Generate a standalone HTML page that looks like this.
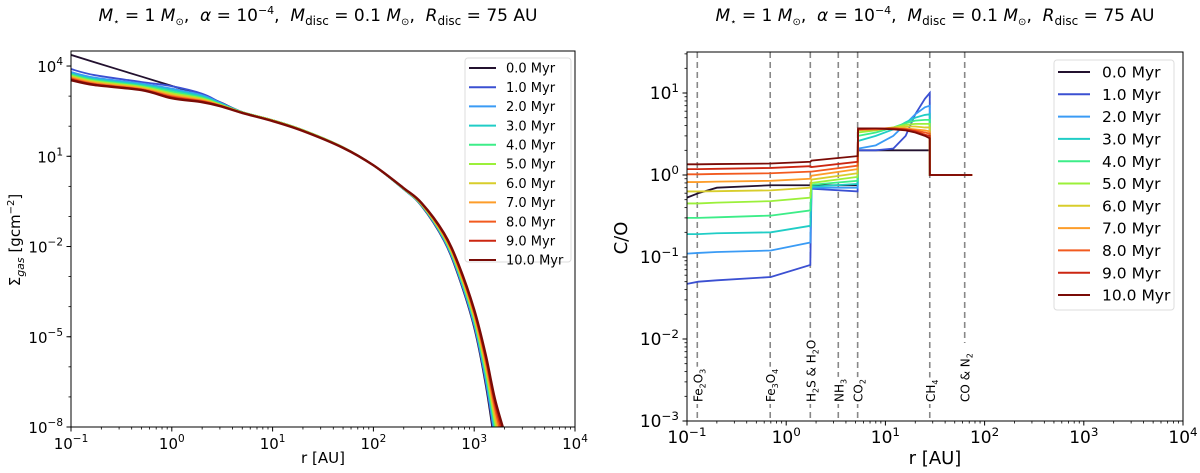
<!DOCTYPE html>
<html><head><meta charset="utf-8">
<style>
html,body{margin:0;padding:0;background:#fff;width:1200px;height:473px;overflow:hidden;}
svg{display:block;font-family:"DejaVu Sans","Liberation Sans",sans-serif;}
</style></head>
<body>
<svg id="chart" width="1200" height="473" viewBox="0 0 1200 473" xmlns="http://www.w3.org/2000/svg" style="overflow:hidden">
<text x="318" y="21" text-anchor="middle" font-size="17" xml:space="preserve"><tspan font-style="italic">M</tspan><tspan font-size="10" dy="4">⋆</tspan><tspan dy="-4"> = 1 </tspan><tspan font-style="italic">M</tspan><tspan font-size="10" dy="4">⊙</tspan><tspan dy="-4">,  </tspan><tspan font-style="italic">α</tspan><tspan> = 10</tspan><tspan font-size="11" dy="-7">−4</tspan><tspan dy="7">,  </tspan><tspan font-style="italic">M</tspan><tspan font-size="12" dy="4">disc</tspan><tspan dy="-4"> = 0.1 </tspan><tspan font-style="italic">M</tspan><tspan font-size="10" dy="4">⊙</tspan><tspan dy="-4">,  </tspan><tspan font-style="italic">R</tspan><tspan font-size="12" dy="4">disc</tspan><tspan dy="-4"> = 75 AU</tspan></text>
<text x="935" y="21" text-anchor="middle" font-size="17" xml:space="preserve"><tspan font-style="italic">M</tspan><tspan font-size="10" dy="4">⋆</tspan><tspan dy="-4"> = 1 </tspan><tspan font-style="italic">M</tspan><tspan font-size="10" dy="4">⊙</tspan><tspan dy="-4">,  </tspan><tspan font-style="italic">α</tspan><tspan> = 10</tspan><tspan font-size="11" dy="-7">−4</tspan><tspan dy="7">,  </tspan><tspan font-style="italic">M</tspan><tspan font-size="12" dy="4">disc</tspan><tspan dy="-4"> = 0.1 </tspan><tspan font-style="italic">M</tspan><tspan font-size="10" dy="4">⊙</tspan><tspan dy="-4">,  </tspan><tspan font-style="italic">R</tspan><tspan font-size="12" dy="4">disc</tspan><tspan dy="-4"> = 75 AU</tspan></text>
<text transform="translate(20,240) rotate(-90)" text-anchor="middle" font-size="15">Σ<tspan font-style="italic" font-size="11" dy="4">gas</tspan><tspan dy="-4"> [gcm</tspan><tspan font-size="10" dy="-6">−2</tspan><tspan dy="6">]</tspan></text>
<text x="323" y="463" text-anchor="middle" font-size="15">r [AU]</text>
<text transform="translate(627,238) rotate(-90)" text-anchor="middle" font-size="18">C/O</text>
<text x="935" y="464" text-anchor="middle" font-size="18">r [AU]</text>
</svg>
<script>
const NS='http://www.w3.org/2000/svg';
const svg=document.getElementById('chart');
const seriesLabels=['0.0 Myr','1.0 Myr','2.0 Myr','3.0 Myr','4.0 Myr','5.0 Myr','6.0 Myr','7.0 Myr','8.0 Myr','9.0 Myr','10.0 Myr'];
const colors=['#23112f','#3b50d2','#3a9bf5','#20cdc6','#3ded88','#9bf03a','#d8cd2b','#fd9d2a','#f25a1f','#cc2611','#7a0b06'];
// Left panel: log10 Sigma_gas
const sigmaR=[0.1,0.17,0.5,1,2,3,5,10,20,50,100,200,300,500,700,1000,1300,1600,2000];
const logSigma0=[4.37,4.13,3.65,3.34,3.03,2.8,2.47,2.2,1.87,1.3,0.7,-0.1,-0.65,-1.8,-3.0,-4.7,-6.6,-8.6,-11];
const logSigma1=[3.9,3.7,3.47,3.33,3.08,2.8,2.47,2.2,1.87,1.3,0.7,-0.1,-0.64,-1.78,-2.96,-4.64,-6.5,-8.4,-10.7];
const logSigma2=[3.8,3.62,3.42,3.25,3.03,2.78,2.47,2.2,1.87,1.3,0.7,-0.1,-0.63,-1.75,-2.92,-4.58,-6.4,-8.25,-10.4];
const logSigma3=[3.75,3.57,3.38,3.2,2.99,2.76,2.47,2.2,1.87,1.3,0.7,-0.09,-0.62,-1.73,-2.88,-4.52,-6.3,-8.1,-10.1];
const logSigma4=[3.72,3.53,3.34,3.15,2.95,2.74,2.47,2.2,1.87,1.3,0.7,-0.09,-0.61,-1.7,-2.84,-4.46,-6.2,-7.95,-9.8];
const logSigma5=[3.68,3.5,3.31,3.1,2.92,2.72,2.46,2.2,1.87,1.3,0.7,-0.08,-0.6,-1.68,-2.8,-4.4,-6.1,-7.8,-9.5];
const logSigma6=[3.65,3.47,3.28,3.06,2.89,2.71,2.46,2.19,1.86,1.3,0.7,-0.08,-0.59,-1.65,-2.76,-4.34,-6.0,-7.65,-9.2];
const logSigma7=[3.62,3.44,3.25,3.02,2.86,2.7,2.45,2.19,1.86,1.29,0.7,-0.07,-0.58,-1.63,-2.72,-4.28,-5.9,-7.5,-8.95];
const logSigma8=[3.59,3.41,3.23,2.99,2.84,2.69,2.45,2.18,1.85,1.29,0.7,-0.07,-0.57,-1.6,-2.68,-4.22,-5.8,-7.35,-8.7];
const logSigma9=[3.56,3.39,3.21,2.96,2.82,2.68,2.44,2.18,1.85,1.28,0.7,-0.06,-0.56,-1.58,-2.64,-4.16,-5.7,-7.2,-8.45];
const logSigma10=[3.53,3.37,3.2,2.93,2.8,2.67,2.44,2.17,1.84,1.28,0.7,-0.06,-0.55,-1.55,-2.6,-4.1,-5.6,-7.05,-8.2];
const logSigma=[logSigma0,logSigma1,logSigma2,logSigma3,logSigma4,logSigma5,logSigma6,logSigma7,logSigma8,logSigma9,logSigma10];
// Right panel: C/O
const coR=[0.1,0.13,0.2,0.7,1.75,1.8,5.25,5.3,8,12,16,20,25,28,28.05,75];
const co0=[0.53,0.6,0.7,0.75,0.75,0.75,0.75,2,2,2,2,2,2,2,1,1];
const co1=[0.047,0.05,0.052,0.057,0.08,0.68,0.63,2.0,2.0,2.1,3.0,5.5,8.5,10,1,1];
const co2=[0.11,0.112,0.115,0.12,0.15,0.7,0.7,2.1,2.3,3.0,4.2,5.5,6.7,7,1,1];
const co3=[0.19,0.19,0.195,0.2,0.24,0.72,0.78,2.6,3.0,3.6,4.4,5.0,5.4,5.5,1,1];
const co4=[0.3,0.3,0.305,0.32,0.37,0.76,0.85,3.0,3.3,3.8,4.3,4.6,4.7,4.7,1,1];
const co5=[0.45,0.45,0.46,0.48,0.53,0.8,0.95,3.3,3.5,3.8,4.1,4.2,4.2,4.2,1,1];
const co6=[0.63,0.63,0.635,0.65,0.7,0.88,1.05,3.5,3.6,3.8,3.9,3.9,3.8,3.8,1,1];
const co7=[0.82,0.82,0.83,0.85,0.9,0.98,1.18,3.6,3.6,3.7,3.7,3.6,3.5,3.4,1,1];
const co8=[1.02,1.02,1.03,1.05,1.1,1.1,1.3,3.6,3.6,3.7,3.6,3.5,3.3,3.2,1,1];
const co9=[1.18,1.18,1.19,1.22,1.28,1.25,1.45,3.6,3.7,3.7,3.6,3.4,3.1,3.0,1,1];
const co10=[1.35,1.35,1.36,1.38,1.45,1.5,1.7,3.7,3.7,3.6,3.5,3.3,3.0,2.8,1,1];
const coSeries=[co0,co1,co2,co3,co4,co5,co6,co7,co8,co9,co10];
const iceR=[0.127,0.69,1.75,3.35,5.25,28,63];
const iceLabels=[['Fe','2','O','3'],['Fe','3','O','4'],['H','2','S & H','2','O'],['NH','3'],['CO','2'],['CH','4'],['CO & N','2']];
const yTickExpL=[4,1,-2,-5,-8];
const yTickExpR=[-3,-2,-1,0,1];
const xTickExp=[-1,0,1,2,3,4];

function el(tag,attrs,parent){const e=document.createElementNS(NS,tag);for(const k in attrs)e.setAttribute(k,attrs[k]);(parent||svg).appendChild(e);return e;}

function makeAxes(P){
  P.x=v=>P.x0+(Math.log10(v)-P.lx0)/(P.lx1-P.lx0)*(P.x1-P.x0);
  P.yl=l=>P.y1-(l-P.ly0)/(P.ly1-P.ly0)*(P.y1-P.y0);
  P.y=v=>P.yl(Math.log10(v));
}
const L={x0:71,x1:575,y0:51,y1:427,lx0:-1,lx1:4,ly0:-8,ly1:4.5};
const R={x0:687,x1:1183,y0:52,y1:421,lx0:-1,lx1:4,ly0:-3,ly1:1.5};
makeAxes(L);makeAxes(R);

function smoothPath(pts){
  let d='M'+pts[0][0].toFixed(2)+','+pts[0][1].toFixed(2);
  for(let i=0;i<pts.length-1;i++){
    const p0=pts[Math.max(0,i-1)],p1=pts[i],p2=pts[i+1],p3=pts[Math.min(pts.length-1,i+2)];
    const c1x=p1[0]+(p2[0]-p0[0])/6,c1y=p1[1]+(p2[1]-p0[1])/6;
    const c2x=p2[0]-(p3[0]-p1[0])/6,c2y=p2[1]-(p3[1]-p1[1])/6;
    d+=' C'+c1x.toFixed(2)+','+c1y.toFixed(2)+' '+c2x.toFixed(2)+','+c2y.toFixed(2)+' '+p2[0].toFixed(2)+','+p2[1].toFixed(2);
  }
  return d;
}

function drawFrame(P,name,yTicks,fs,minorAll){
  const g=el('g',{});
  
  
  for(let e=P.lx0;e<P.lx1;e++){for(let m=2;m<10;m++){const x=P.x(m*Math.pow(10,e));el('line',{x1:x,x2:x,y1:P.y1,y2:P.y1+2.5,stroke:'#000','stroke-width':0.8},g);}}
  xTickExp.forEach(e=>{const x=P.x(Math.pow(10,e));el('line',{x1:x,x2:x,y1:P.y1,y2:P.y1+4.5,stroke:'#000','stroke-width':1},g);
    const t=el('text',{x:x,y:P.y1+22,'text-anchor':'middle','font-size':fs},g);
    
    
    t.innerHTML='10<tspan font-size="'+(fs*0.7)+'" dy="-7">'+(e<0?'−'+(-e):e)+'</tspan>';});
  for(let e=Math.floor(P.ly0);e<Math.ceil(P.ly1);e++){
    if(minorAll){for(let m=2;m<10;m++){const l=e+Math.log10(m);if(l>P.ly1)continue;const y=P.yl(l);el('line',{x1:P.x0,x2:P.x0-2.5,y1:y,y2:y,stroke:'#000','stroke-width':0.8},g);}}
    else{const y=P.yl(e);el('line',{x1:P.x0,x2:P.x0-2.5,y1:y,y2:y,stroke:'#000','stroke-width':0.8},g);}
  }
  yTicks.forEach(e=>{const y=P.yl(e);el('line',{x1:P.x0,x2:P.x0-4.5,y1:y,y2:y,stroke:'#000','stroke-width':1},g);
    const t=el('text',{x:P.x0-8,y:y+6,'text-anchor':'end','font-size':fs},g);
    
    
    t.innerHTML='10<tspan font-size="'+(fs*0.7)+'" dy="-7">'+(e<0?'−'+(-e):e)+'</tspan>';});
  return g;
}

// Left panel
drawFrame(L,'left',yTickExpL,15,false);
const clipL=el('clipPath',{id:'clipL'});el('rect',{x:L.x0,y:L.y0,width:L.x1-L.x0,height:L.y1-L.y0},clipL);
logSigma.forEach((s,i)=>{
  const pts=s.map((l,j)=>[L.x(sigmaR[j]),L.yl(l)]);
  const p=el('path',{d:smoothPath(pts),fill:'none',stroke:colors[i],'stroke-width':i==10?2.4:1.8,'clip-path':'url(#clipL)'});
  
  
});
el('rect',{x:L.x0,y:L.y0,width:L.x1-L.x0,height:L.y1-L.y0,fill:'none',stroke:'#000','stroke-width':1});

// Right panel
drawFrame(R,'right',yTickExpR,17,true);
iceR.forEach((r,i)=>{
  const x=R.x(r);
  const ln=el('line',{x1:x,x2:x,y1:R.y0,y2:i==6?343:R.y1,stroke:'#888','stroke-width':1.6,'stroke-dasharray':'6,4'});
  
  
  const bg=el('rect',{x:x-4,y:0,width:10,height:0,fill:'#fff'});
  const t=el('text',{transform:'translate('+(x+5)+',402) rotate(-90)','font-size':12});
  
  
  const parts=iceLabels[i];let h='';
  parts.forEach((p,k)=>{h+= (k%2==1)?'<tspan font-size="8" dy="3">'+p+'</tspan>':'<tspan dy="'+(k?-3:0)+'">'+p+'</tspan>';});
  t.innerHTML=h;
  const bb=t.getBBox();
  bg.setAttribute('y',402-bb.width-2);bg.setAttribute('height',bb.width+4);
});
const clipR=el('clipPath',{id:'clipR'});el('rect',{x:R.x0,y:R.y0,width:R.x1-R.x0,height:R.y1-R.y0},clipR);
coSeries.forEach((s,i)=>{
  const d=s.map((v,j)=>(j?'L':'M')+R.x(coR[j]).toFixed(2)+','+R.y(v).toFixed(2)).join(' ');
  const p=el('path',{d:d,fill:'none',stroke:colors[i],'stroke-width':1.8,'clip-path':'url(#clipR)'});
  
  
});
el('rect',{x:R.x0,y:R.y0,width:R.x1-R.x0,height:R.y1-R.y0,fill:'none',stroke:'#000','stroke-width':1});

// Legends
function legend(name,x,y,w,h,first,step,lx0,lx1,tx,fs){
  const g=el('g',{});
  
  
  el('rect',{x:x,y:y,width:w,height:h,rx:3,fill:'#fff','fill-opacity':0.85,stroke:'#ddd','stroke-width':1},g);
  seriesLabels.forEach((lab,i)=>{
    const yy=first+i*step;
    const l=el('line',{x1:lx0,x2:lx1,y1:yy,y2:yy,stroke:colors[i],'stroke-width':2},g);
    
    
    const t=el('text',{x:tx,y:yy+fs*0.36,'font-size':fs},g);
    
    
    t.textContent=lab;
  });
}
legend('left-legend',465,58,106,204,68,19.2,469,496,506,13);
legend('right-legend',1054,60,120,250,72,22.3,1058,1090,1102,15.5);
</script>
</body></html>
